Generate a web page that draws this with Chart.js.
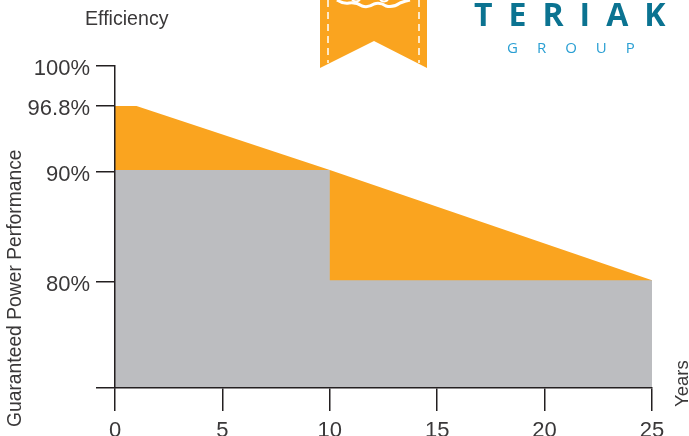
<!DOCTYPE html>
<html>
<head>
<meta charset="utf-8">
<title>Efficiency</title>
<script src="https://cdn.jsdelivr.net/npm/chart.js@4/dist/chart.umd.min.js"></script>
<style>
  html, body { margin: 0; padding: 0; background: #fff; overflow: hidden; }
  #box { width: 689px; height: 436px; }
</style>
</head>
<body>
<div id="box"><canvas id="chart"></canvas></div>
<script>
const xTicks = [0, 5, 10, 15, 20, 25];
const yTicks = [70, 80, 90, 96.8, 100];
const yHidden = 70;

// orange: guaranteed line, grey: stepped warranty
const orangeYears = [0, 1, 10, 25];
const orangeValues = [96.8, 96.8, 90, 80];
const greyYears = [0, 10, 10, 25];
const greyValues = [90, 90, 80, 80];

const FONT = '"Liberation Sans"';
const INK = '#231f20';
const TEXT = '#3a3839';

// the printed axis is not even: each labelled value has its own height
const yStops = [0, 0.335, 0.677, 0.876, 1];
// tick marks for 80 and 90 sit a little under the edge of the fill in the original
const tickNudge = [0, 2, 2, 0, 0];
class StopScale extends Chart.LinearScale {
  getPixelForValue(value) {
    if (value === null || value === undefined) return NaN;
    let i = 0;
    while (i < yTicks.length - 2 && value > yTicks[i + 1]) i++;
    const t = (value - yTicks[i]) / (yTicks[i + 1] - yTicks[i]);
    return this.getPixelForDecimal(yStops[i] + t * (yStops[i + 1] - yStops[i]));
  }
  getPixelForTick(index) {
    return super.getPixelForTick(index) + (tickNudge[index] || 0);
  }
}
StopScale.id = 'stops';
StopScale.defaults = Chart.LinearScale.defaults;
Chart.register(StopScale);

function toPoints(xs, ys) {
  return xs.map((x, i) => ({ x: x, y: ys[i] }));
}

function drawRibbon(ctx) {
  ctx.fillStyle = '#faa41f';
  ctx.beginPath();
  ctx.moveTo(320, 0);
  ctx.lineTo(427, 0);
  ctx.lineTo(427, 68);
  ctx.lineTo(374, 41);
  ctx.lineTo(320, 68);
  ctx.closePath();
  ctx.fill();

  ctx.strokeStyle = '#fff';
  ctx.lineWidth = 1.5;
  ctx.setLineDash([7, 5]);
  [328, 419].forEach(x => {
    ctx.beginPath();
    ctx.moveTo(x, 0);
    ctx.lineTo(x, 63);
    ctx.stroke();
  });
  ctx.setLineDash([]);

  // wavy edge of the badge, cut off by the top of the picture
  ctx.lineWidth = 3;
  ctx.beginPath();
  ctx.moveTo(337, 0);
  ctx.quadraticCurveTo(343, 4, 349, 3);
  ctx.quadraticCurveTo(356, 2, 362, 6);
  ctx.quadraticCurveTo(368, 8, 374, 4);
  ctx.quadraticCurveTo(380, 2, 386, 6);
  ctx.quadraticCurveTo(393, 8, 400, 3);
  ctx.quadraticCurveTo(405, 1, 410, 0);
  ctx.stroke();
  ctx.lineWidth = 2;
  ctx.beginPath();
  ctx.moveTo(352, 0);
  ctx.quadraticCurveTo(356, 3, 360, 0);
  ctx.moveTo(380, 0);
  ctx.quadraticCurveTo(384, 3, 388, 0);
  ctx.stroke();
}

const annotations = {
  id: 'annotations',
  afterDraw(chart) {
    const ctx = chart.ctx;
    ctx.save();
    drawRibbon(ctx);

    ctx.textBaseline = 'alphabetic';
    ctx.textAlign = 'left';
    ctx.fillStyle = TEXT;
    ctx.font = '19.6px ' + FONT;
    ctx.fillText('Efficiency', 85, 25);

    ctx.font = '19.3px ' + FONT;
    ctx.save();
    ctx.translate(21, 427);
    ctx.rotate(-Math.PI / 2);
    ctx.fillText('Guaranteed Power Performance', 0, 0);
    ctx.restore();

    ctx.font = '18.5px ' + FONT;
    ctx.save();
    ctx.translate(688, 407);
    ctx.rotate(-Math.PI / 2);
    ctx.fillText('Years', 0, 0);
    ctx.restore();

    ctx.fillStyle = '#0b7391';
    ctx.font = '700 32px "Open Sans"';
    ctx.letterSpacing = '16px';
    ctx.fillText('TERIAK', 474, 26);

    ctx.fillStyle = '#2a9fd3';
    ctx.font = '400 15px "Open Sans"';
    ctx.letterSpacing = '19px';
    ctx.fillText('GROUP', 507, 53);
    ctx.letterSpacing = '0px';
    ctx.restore();
  }
};

new Chart(document.getElementById('chart'), {
  type: 'scatter',
  data: {
    datasets: [
      {
        data: toPoints(greyYears, greyValues),
        showLine: true,
        pointRadius: 0,
        borderWidth: 0,
        backgroundColor: '#bcbdc0',
        fill: 'start'
      },
      {
        data: toPoints(orangeYears, orangeValues),
        showLine: true,
        pointRadius: 0,
        borderWidth: 0,
        backgroundColor: '#faa41f',
        fill: 'start'
      }
    ]
  },
  plugins: [annotations],
  options: {
    responsive: true,
    maintainAspectRatio: false,
    animation: false,
    layout: { padding: { top: 66, right: 37, left: 0, bottom: 0 } },
    plugins: { legend: { display: false }, tooltip: { enabled: false } },
    scales: {
      x: {
        type: 'linear',
        min: 0,
        max: 25,
        afterBuildTicks: scale => { scale.ticks = xTicks.map(v => ({ value: v })); },
        afterFit: scale => { scale.height = 48; },
        border: { color: INK, width: 1.5, z: 1 },
        grid: { drawOnChartArea: false, color: INK, lineWidth: 1.5, tickLength: 23, z: 1 },
        ticks: {
          color: TEXT,
          font: { family: FONT, size: 22 },
          padding: 7,
          maxRotation: 0,
          autoSkip: false
        }
      },
      y: {
        type: 'stops',
        min: yTicks[0],
        max: yTicks[yTicks.length - 1],
        afterBuildTicks: scale => { scale.ticks = yTicks.map(v => ({ value: v })); },
        afterFit: scale => { scale.width = 115; },
        border: { color: INK, width: 1.5, z: 1 },
        grid: { drawOnChartArea: false, color: INK, lineWidth: 1.5, tickLength: 19, z: 1 },
        ticks: {
          color: TEXT,
          font: { family: FONT, size: 22 },
          padding: 6,
          labelOffset: 3,
          autoSkip: false,
          callback: v => (v === yHidden ? '' : v + '%')
        }
      }
    }
  }
});
</script>
</body>
</html>
